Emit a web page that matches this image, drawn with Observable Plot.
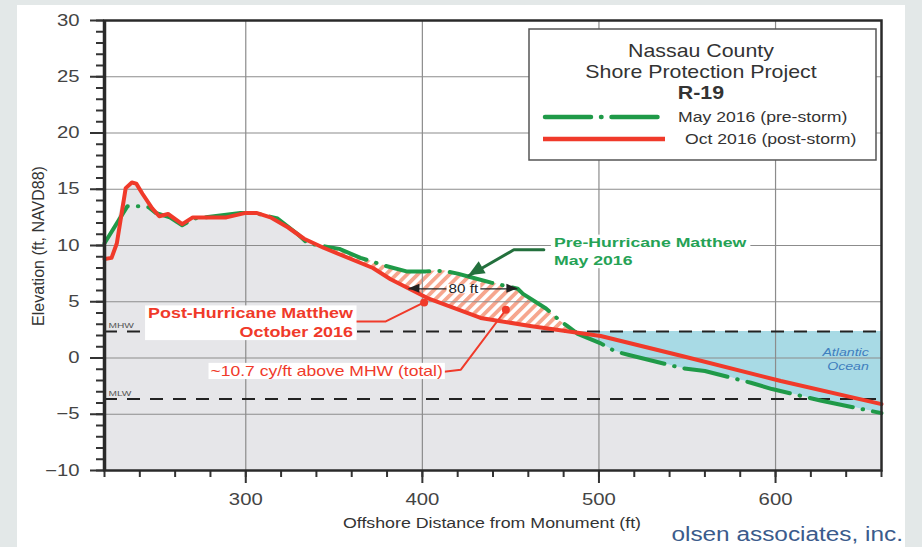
<!DOCTYPE html>
<html><head><meta charset="utf-8">
<script src="https://cdn.jsdelivr.net/npm/d3@7"></script>
<script src="https://cdn.jsdelivr.net/npm/@observablehq/plot@0.6"></script>
<style>
html,body{margin:0;padding:0;background:#e3e8e8;}
#wrap{position:relative;width:922px;height:547px;overflow:hidden;}
#panel{position:absolute;left:17px;top:5px;width:888px;height:542px;background:#fff;}
#chart{position:absolute;left:0;top:0;}
</style></head><body>
<div id="wrap"><div id="panel"></div><div id="chart"></div></div>
<script>
// ---- data ----
const preX = [220, 233, 240, 245, 249, 257, 264, 271, 282, 297, 305, 318, 329.5, 335, 342, 353, 365, 379, 391, 402, 412, 420, 427, 439, 454, 457, 470, 478, 482, 488, 501, 509, 517, 547, 560, 586, 598, 626, 660];
const preY = [10.2, 13.5, 13.5, 13.4, 12.9, 12.5, 11.8, 12.4, 12.6, 12.9, 12.9, 12.4, 11.0, 10.2, 10.0, 9.7, 8.9, 8.2, 7.7, 7.7, 7.75, 7.5, 7.2, 6.7, 6.15, 5.7, 4.4, 3.3, 2.85, 2.14, 1.3, 0.6, 0.27, -0.9, -1.16, -2.2, -2.76, -3.8, -4.9];
const postX = [220, 224, 227, 232, 235.5, 238, 241.5, 247, 251, 256, 264, 270, 280, 289, 300, 306, 314, 324, 333, 344, 372, 382, 404, 433, 461, 490, 501, 547, 603, 660];
const postY = [8.8, 8.9, 10.2, 15.1, 15.6, 15.5, 14.6, 13.3, 12.6, 12.8, 11.9, 12.5, 12.5, 12.5, 12.9, 12.9, 12.5, 11.6, 10.6, 9.8, 8.0, 7.0, 5.25, 3.56, 2.85, 2.2, 1.96, 0.18, -2.05, -4.1];
const MHW = 2.36, MLW = -3.64;
const xDomain = [220, 660], yDomain = [-10, 30];
const xTicks = [300, 400, 500, 600];
const yTicks = [-10, -5, 0, 5, 10, 15, 20, 25, 30];
const hatchRange = [338, 486];
const legendTitle = ["Nassau County", "Shore Protection Project", "R-19"];
const legendItems = ["May 2016 (pre-storm)", "Oct 2016 (post-storm)"];
const preLabel = {x: 474.5, y: 9.56, text: "Pre-Hurricane Matthew\nMay 2016"};
const postLabel = {x: 360.7, y: 3.21, text: "Post-Hurricane Matthew\nOctober 2016"};
const totalLabel = {x: 411.6, y: -1.22, text: "~10.7 cy/ft above MHW (total)"};
const widthLabel = {x: 423.2, y: 6.15, text: "80 ft"};
const oceanLabel = {x: 652.8, y: -0.06, text: "Atlantic\nOcean"};
const preArrowX = [468.8, 451.8, 426.3], preArrowY = [9.62, 9.62, 7.31];
const postLeaderX = [361.4, 379.3, 401.0], postLeaderY = [3.25, 3.25, 4.94];
const totalLeaderX = [412.2, 421.8, 447.3], totalLeaderY = [-1.22, -1.04, 4.29];
const widthArrowX = [392.4, 454.1], widthArrowY = 6.15;

// ---- derived fill geometry (union grid of both surveys) ----
function interp(xs, ys, x) {
  const i = Math.max(1, Math.min(xs.length - 1, d3.bisectLeft(xs, x)));
  const t = (x - xs[i-1]) / (xs[i] - xs[i-1]);
  return ys[i-1] + t * (ys[i] - ys[i-1]);
}
const gridXs = Array.from(new Set([...preX, ...postX, ...hatchRange])).sort((a,b)=>a-b);
const grid = gridXs.map(x => {
  const a = interp(preX, preY, x), b = interp(postX, postY, x);
  return {x, pre: a, post: b, lo: Math.min(a,b), hi: Math.max(a,b)};
});
const inHatch = d => d.x >= hatchRange[0] && d.x <= hatchRange[1];
const pre = preX.map((x,i)=>({x, y: preY[i]}));
const post = postX.map((x,i)=>({x, y: postY[i]}));
const GREEN = "#1f9a48", RED = "#f03a2a", DARKGREEN = "#23703d", LABELGREEN = "#25a255";

const plot = Plot.plot({
  width: 922, height: 547,
  marginLeft: 104, marginRight: 41, marginTop: 20, marginBottom: 77,
  style: {fontFamily: "'Liberation Sans', Arial, sans-serif", background: "transparent", color: "#333"},
  x: {domain: xDomain, label: null},
  y: {domain: yDomain, label: null},
  marks: [
    Plot.areaY(grid, {x: "x", y1: yDomain[0], y2: d => d.x < hatchRange[0] ? d.hi : d.lo, fill: "#e6e6e9", curve: "linear"}),
    Plot.areaY(grid, {x: "x", y1: "lo", y2: d => Math.max(d.lo, MHW), fill: "#a8dae5"}),
    Plot.areaY(grid.filter(inHatch), {x: "x", y1: "post", y2: "hi", fill: "white"}),
    Plot.areaY(grid.filter(inHatch), {x: "x", y1: "post", y2: "hi", fill: "url(#hatch)"}),
    Plot.gridX({ticks: xTicks, stroke: "#8c8c8c", strokeOpacity: 1, strokeWidth: 1.2}),
    Plot.gridY({ticks: yTicks.filter(v => v > -10 && v < 30), stroke: "#8c8c8c", strokeOpacity: 1, strokeWidth: 1.2}),
    Plot.ruleY([MHW, MLW], {stroke: "#222", strokeWidth: 2, strokeDasharray: "13,10"}),
    Plot.line(pre, {x: "x", y: "y", stroke: GREEN, strokeWidth: 4, strokeDasharray: "44,10,0.5,10", strokeLinecap: "round"}),
    Plot.line(post, {x: "x", y: "y", stroke: RED, strokeWidth: 4, strokeLinejoin: "round"}),
    Plot.line(postLeaderX.map((x,i)=>({x, y: postLeaderY[i]})), {x: "x", y: "y", stroke: RED, strokeWidth: 2}),
    Plot.line(totalLeaderX.map((x,i)=>({x, y: totalLeaderY[i]})), {x: "x", y: "y", stroke: RED, strokeWidth: 2}),
    Plot.dot([{x: postLeaderX[2], y: postLeaderY[2]}, {x: totalLeaderX[2], y: totalLeaderY[2]}], {x: "x", y: "y", r: 4, fill: RED}),
    Plot.line(preArrowX.map((x,i)=>({x, y: preArrowY[i]})), {x: "x", y: "y", stroke: DARKGREEN, strokeWidth: 3}),
    Plot.ruleY([widthArrowY], {x1: widthArrowX[0], x2: widthArrowX[1], stroke: "#222", strokeWidth: 1.2}),
    Plot.text([widthLabel], {x: "x", y: "y", text: "text", fontSize: 12, fill: "#222", className: "lbl-w"}),
    Plot.text([preLabel], {x: "x", y: "y", text: "text", textAnchor: "start", lineAnchor: "middle", lineHeight: 1.33, fontSize: 13, fontWeight: "bold", fill: LABELGREEN, className: "lbl-pre"}),
    Plot.text([postLabel], {x: "x", y: "y", text: "text", textAnchor: "end", lineAnchor: "middle", lineHeight: 1.36, fontSize: 14, fontWeight: "bold", fill: RED, className: "lbl-post"}),
    Plot.text([totalLabel], {x: "x", y: "y", text: "text", textAnchor: "end", lineAnchor: "middle", fontSize: 14.5, fill: RED, className: "lbl-total"}),
    Plot.text([oceanLabel], {x: "x", y: "y", text: "text", textAnchor: "end", lineAnchor: "middle", lineHeight: 1.22, fontSize: 11.5, fontStyle: "italic", fill: "#3f7fbf", className: "lbl-ocean"}),
    Plot.text([{y: MHW, t: "MHW"}, {y: MLW, t: "MLW"}], {x: xDomain[0], y: "y", text: "t", textAnchor: "start", dx: 4, dy: -6, fontSize: 8, fill: "#555", className: "lbl-tide"}),
    Plot.axisY({ticks: d3.range(-10, 31, 1), tickSize: 8, stroke: "#333", strokeWidth: 2, fill: "none", label: null}),
    Plot.axisY({ticks: yTicks, tickSize: 14, tickPadding: 11, fontSize: 16, stroke: "#333", strokeWidth: 2, fill: "#444", label: null}),
    Plot.axisX({ticks: d3.range(220, 661, 20), tickSize: 7, stroke: "#333", strokeWidth: 2, fill: "none", label: null}),
    Plot.axisX({ticks: xTicks, tickSize: 13, tickPadding: 10, fontSize: 16, stroke: "#333", strokeWidth: 2, fill: "#444", label: null}),
    Plot.frame({stroke: "#2a2a2a", strokeWidth: 2.5}),
    Plot.ruleX([xDomain[0]], {stroke: "#2a2a2a", strokeWidth: 3.5})
  ]
});
document.getElementById("chart").append(plot);
const svg = d3.select(plot);
svg.style("overflow", "visible");
// hatch pattern
const defs = svg.insert("defs", ":first-child");
const pat = defs.append("pattern").attr("id", "hatch").attr("patternUnits", "userSpaceOnUse")
  .attr("width", 7.5).attr("height", 7.5).attr("patternTransform", "rotate(45)");
pat.append("rect").attr("width", 7.5).attr("height", 7.5).attr("fill", "white");
pat.append("rect").attr("width", 3.8).attr("height", 7.5).attr("fill", "#f6a68e");

// arrow heads through the plot's scales
const sx = plot.scale("x"), sy = plot.scale("y");
function head(x0, y0, x1, y1, len, w, color) {
  const X0 = sx.apply(x0), Y0 = sy.apply(y0), X1 = sx.apply(x1), Y1 = sy.apply(y1);
  const a = Math.atan2(Y1 - Y0, X1 - X0), c = Math.cos(a), s = Math.sin(a);
  const pts = [[X1, Y1], [X1 - len*c + w*s, Y1 - len*s - w*c], [X1 - len*c - w*s, Y1 - len*s + w*c]];
  svg.append("path").attr("d", "M" + pts.join("L") + "Z").attr("fill", color);
}
head(preArrowX[1], preArrowY[1], preArrowX[2], preArrowY[2], 16, 7, DARKGREEN);
head(widthLabel.x, widthArrowY, widthArrowX[0], widthArrowY, 11, 4.5, "#222");
head(widthLabel.x, widthArrowY, widthArrowX[1], widthArrowY, 11, 4.5, "#222");

// legend
const lg = svg.append("g").attr("class", "legend");
lg.append("rect").attr("x", 529).attr("y", 29).attr("width", 347).attr("height", 131).attr("fill", "white").attr("stroke", "#555").attr("stroke-width", 1.5);
legendTitle.forEach((t, i) => lg.append("text").attr("x", 701).attr("y", [57.5, 78.5, 99][i]).attr("text-anchor", "middle")
  .attr("font-size", 17.5).attr("font-weight", i === 2 ? "bold" : "normal").attr("fill", "#333").attr("data-s", 1.22).text(t));
lg.append("line").attr("x1", 545).attr("x2", 663).attr("y1", 117).attr("y2", 117).attr("stroke", GREEN).attr("stroke-width", 4.5)
  .attr("stroke-dasharray", "46,10,0.5,10").attr("stroke-linecap", "round");
lg.append("line").attr("x1", 543).attr("x2", 665).attr("y1", 139).attr("y2", 139).attr("stroke", RED).attr("stroke-width", 4.5);
legendItems.forEach((t, i) => lg.append("text").attr("x", [678, 685][i]).attr("y", [121.7, 144][i]).attr("text-anchor", "start")
  .attr("font-size", 14).attr("fill", "#333").attr("data-s", 1.26).text(t));

// axis titles and credit
svg.append("text").attr("transform", "translate(44,246) rotate(-90)").attr("text-anchor", "middle")
  .attr("font-size", 16).attr("fill", "#333").attr("data-s", 1).text("Elevation (ft, NAVD88)");
svg.append("text").attr("x", 492).attr("y", 528).attr("text-anchor", "middle")
  .attr("font-size", 14).attr("fill", "#333").attr("data-s", 1.27).text("Offshore Distance from Monument (ft)");
svg.append("text").attr("x", 903).attr("y", 541).attr("text-anchor", "end")
  .attr("font-size", 19.5).attr("fill", "#3b5b8c").attr("data-s", 1.25).text("olsen associates, inc.");

// horizontal stretch of the lettering (the reference is widened)
const stretchBy = {"lbl-pre": 1.36, "lbl-post": 1.28, "lbl-total": 1.21, "lbl-ocean": 1.23, "lbl-w": 1.27, "lbl-tide": 1.27};
svg.selectAll("text").each(function() {
  const el = d3.select(this);
  let s = el.attr("data-s");
  if (s == null) {
    const g = this.parentNode;
    const cls = (g.getAttribute("class") || "").split(/\s+/);
    s = 1.27;
    for (const c of cls) if (stretchBy[c]) s = stretchBy[c];
  }
  s = +s;
  if (s === 1) return;
  const x = +el.attr("x") || 0, y = +el.attr("y") || 0;
  const t = el.attr("transform") || "";
  el.attr("transform", `${t} translate(${x},${y}) scale(${s},1) translate(${-x},${-y})`);
});
// white boxes behind labels
const svgRect = plot.getBoundingClientRect();
[["lbl-pre", 3, 1], ["lbl-post", 3, 0], ["lbl-total", 2, 0], ["lbl-w", 2, -2]].forEach(([cls, px, py]) => {
  svg.selectAll("g." + cls).each(function() {
    const g = this;
    d3.select(g).selectAll("text").each(function() {
      const r = this.getBoundingClientRect();
      svg.insert("rect", () => g).attr("x", r.left - svgRect.left - px).attr("y", r.top - svgRect.top - py)
        .attr("width", r.width + 2*px).attr("height", r.height + 2*py).attr("fill", "white");
    });
  });
});
</script>
</body></html>
